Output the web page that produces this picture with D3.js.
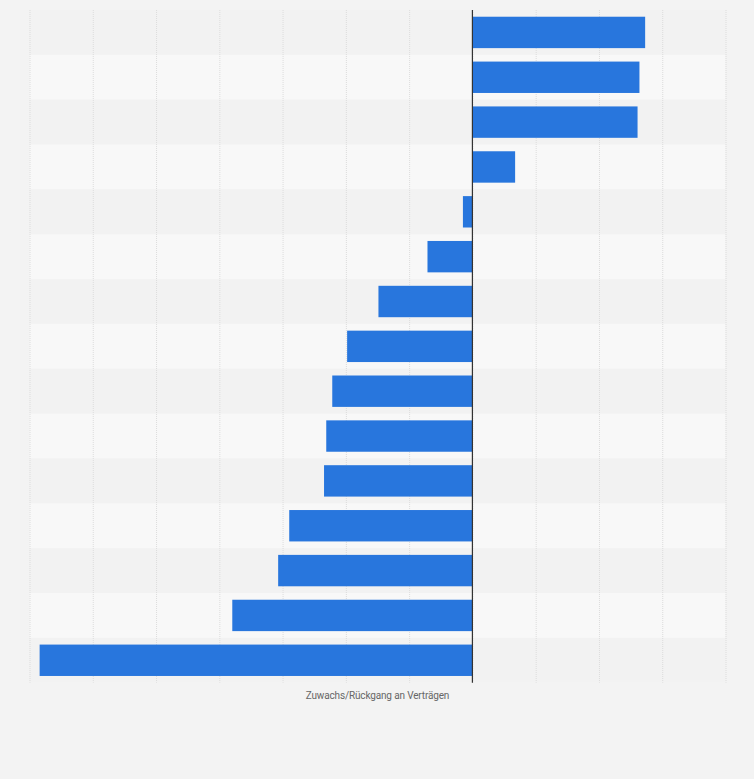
<!DOCTYPE html>
<html>
<head>
<meta charset="utf-8">
<script src="https://cdn.jsdelivr.net/npm/d3@7"></script>
<style>
  body { margin: 0; background: #f3f3f3; }
</style>
</head>
<body>
<div id="chart"></div>
<script>
// Categories are not labelled in the source picture
const categories = ["1", "2", "3", "4", "5", "6", "7", "8", "9", "10", "11", "12", "13", "14", "15"];
const values = [2730, 2640, 2610, 675, -150, -710, -1485, -1980, -2215, -2310, -2345, -2895, -3070, -3795, -6840];
const xTicks = [-7000, -6000, -5000, -4000, -3000, -2000, -1000, 0, 1000, 2000, 3000, 4000];
const axisTitle = "Zuwachs/Rückgang an Verträgen";

const width = 754;
const height = 779;
const margin = { top: 10, right: 28.5, bottom: 96.3, left: 29.5 };
const innerWidth = width - margin.left - margin.right;
const innerHeight = height - margin.top - margin.bottom;

const data = categories.map((c, i) => ({ category: c, value: values[i] }));

const svg = d3.select("#chart")
  .append("svg")
  .attr("width", width)
  .attr("height", height)
  .style("display", "block");

svg.append("rect")
  .attr("width", width)
  .attr("height", height)
  .attr("fill", "#f3f3f3");

const g = svg.append("g")
  .attr("transform", `translate(${margin.left}, ${margin.top})`);

// Scales
const xScale = d3.scaleLinear()
  .domain([-7000, 4000])
  .range([0, innerWidth]);

const yScale = d3.scaleBand()
  .domain(categories)
  .range([0, innerHeight])
  .paddingInner(0.3)
  .paddingOuter(0.15);

// Row stripes
const step = yScale.step();
g.selectAll(".stripe")
  .data(data)
  .enter()
  .append("rect")
  .attr("class", "stripe")
  .attr("x", 0)
  .attr("width", innerWidth)
  .attr("y", d => yScale(d.category) - yScale.paddingInner() * step / 2)
  .attr("height", step)
  .attr("fill", (d, i) => i % 2 === 0 ? "#f2f2f2" : "#f8f8f8");

// Vertical grid lines (dotted)
g.append("g")
  .attr("class", "grid")
  .call(d3.axisBottom(xScale).tickValues(xTicks).tickSize(innerHeight).tickFormat(""))
  .call(sel => sel.select(".domain").remove())
  .selectAll("line")
  .attr("stroke", "#dcdcdc")
  .attr("stroke-width", 1)
  .attr("stroke-dasharray", "1,1");

// Bars
g.selectAll(".bar")
  .data(data)
  .enter()
  .append("rect")
  .attr("class", "bar")
  .attr("x", d => xScale(Math.min(0, d.value)))
  .attr("width", d => Math.abs(xScale(d.value) - xScale(0)))
  .attr("y", d => yScale(d.category))
  .attr("height", yScale.bandwidth())
  .attr("fill", "#2876dd");

// Zero line
g.append("line")
  .attr("x1", xScale(0))
  .attr("x2", xScale(0))
  .attr("y1", 0)
  .attr("y2", innerHeight)
  .attr("stroke", "#333")
  .attr("stroke-width", 1.2);

// Axis title
g.append("text")
  .attr("x", innerWidth / 2)
  .attr("y", innerHeight + 16)
  .attr("text-anchor", "middle")
  .style("font-family", "Roboto, 'Liberation Sans', sans-serif")
  .style("font-size", "10px")
  .style("letter-spacing", "-0.15px")
  .style("fill", "#666")
  .text(axisTitle);
</script>
</body>
</html>
